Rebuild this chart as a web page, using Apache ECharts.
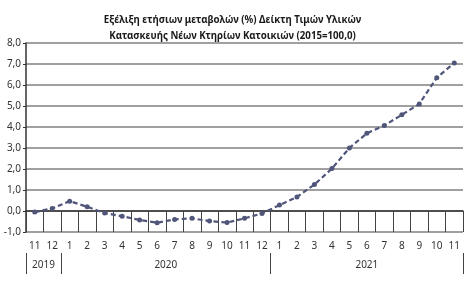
<!DOCTYPE html>
<html><head><meta charset="utf-8">
<script src="https://cdn.jsdelivr.net/npm/echarts@6/dist/echarts.min.js"></script>
<style>html,body{margin:0;padding:0;background:#fff}#c{width:465px;height:290px}</style>
</head><body><div id="c"></div>
<script>
const titleText = 'Εξέλιξη ετήσιων μεταβολών (%) Δείκτη Τιμών Υλικών\nΚατασκευής Νέων Κτηρίων Κατοικιών (2015=100,0)';
const months = ['11','12','1','2','3','4','5','6','7','8','9','10','11','12','1','2','3','4','5','6','7','8','9','10','11'];
const years = ['2019','2020','2021'];
const yearBounds = [0, 2, 14, 25];
const yearCenters = [1, 8, 19.5];
const values = [-0.05, 0.12, 0.47, 0.2, -0.1, -0.25, -0.43, -0.56, -0.4, -0.35, -0.48, -0.55, -0.35, -0.12, 0.28, 0.67, 1.26, 2.02, 3.0, 3.7, 4.07, 4.58, 5.1, 6.35, 7.05];

const font = 'Noto Sans';
const chart = echarts.init(document.getElementById('c'));
chart.setOption({
  animation: false,
  backgroundColor: '#fff',
  title: {
    text: titleText, left: 'center', top: 7,
    textStyle: {fontFamily: font, fontSize: 9.7, fontWeight: 'bold', color: '#1a1a1a', lineHeight: 16}
  },
  grid: {left: 26, right: 2, top: 43, bottom: 58},
  xAxis: [{
    type: 'category', data: months, boundaryGap: true,
    axisLine: {lineStyle: {color: '#333', width: 1.5}},
    axisTick: {show: true, length: 21, lineStyle: {color: '#444', width: 1}},
    axisLabel: {fontFamily: font, fontSize: 10, color: '#333', margin: 9, interval: 0}
  }, {
    type: 'value', min: 0, max: 25, position: 'bottom', offset: 21,
    axisLine: {show: false},
    splitLine: {show: false},
    axisTick: {show: true, customValues: yearBounds, length: 21, lineStyle: {color: '#444', width: 1}},
    axisLabel: {customValues: yearCenters, fontFamily: font, fontSize: 10, color: '#333', margin: 7,
      formatter: v => years[yearCenters.indexOf(v)] || ''}
  }],
  yAxis: {
    type: 'value', min: -1, max: 8, interval: 1,
    axisLine: {show: true, lineStyle: {color: '#333', width: 1.5}},
    axisTick: {show: true, length: 3, lineStyle: {color: '#333'}},
    axisLabel: {fontFamily: font, fontSize: 10, color: '#333', margin: 5,
      formatter: v => v.toFixed(1).replace('.', ',')},
    splitLine: {lineStyle: {color: '#808080', width: 1.5}}
  },
  series: [{
    type: 'line', data: values, xAxisIndex: 0,
    symbol: 'circle', symbolSize: 5,
    lineStyle: {color: '#50557a', width: 2.2, type: [5, 3]},
    itemStyle: {color: '#50557a'}
  }]
});
</script></body></html>
